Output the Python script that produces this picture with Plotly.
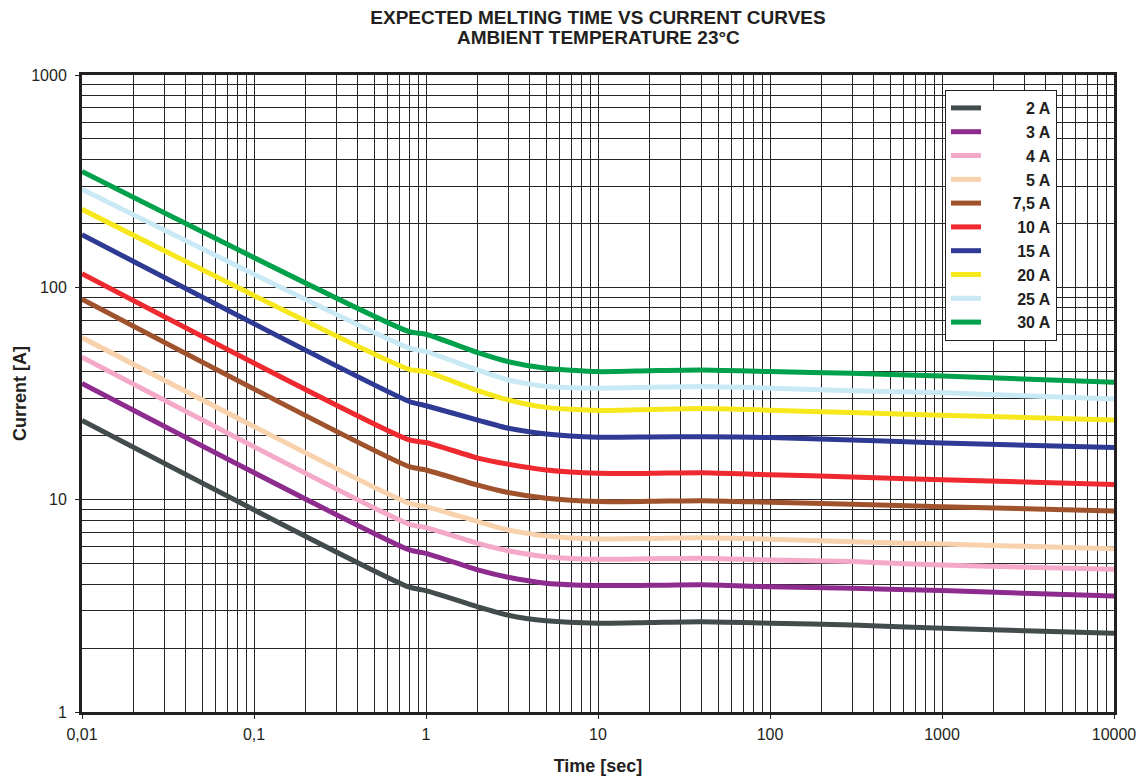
import plotly.graph_objects as go

# ---- data ----
times = [0.01, 0.8, 1, 2, 3, 5, 10, 20, 40, 100, 300, 1000, 10000]

series_names = ["2 A", "3 A", "4 A", "5 A", "7,5 A", "10 A", "15 A", "20 A", "25 A", "30 A"]
series_colors = ["#434c4c", "#8e2b8e", "#f3a9c7", "#f7d2ad", "#a0522d",
                 "#ee2a30", "#2e3a94", "#f7e81e", "#c9e9f5", "#00a14b"]

current_2a = [23.6, 3.87, 3.73, 3.13, 2.86, 2.69, 2.62, 2.64, 2.66, 2.62, 2.57, 2.48, 2.35]
current_3a = [35.3, 5.80, 5.59, 4.67, 4.31, 4.04, 3.94, 3.95, 3.97, 3.89, 3.83, 3.73, 3.52]
current_4a = [46.9, 7.66, 7.38, 6.23, 5.75, 5.39, 5.24, 5.27, 5.30, 5.20, 5.11, 4.92, 4.70]
current_5a = [58.0, 9.60, 9.27, 7.88, 7.20, 6.75, 6.53, 6.57, 6.62, 6.51, 6.34, 6.18, 5.87]
current_7_5a = [88.0, 14.3, 13.8, 11.7, 10.8, 10.15, 9.80, 9.82, 9.89, 9.72, 9.51, 9.27, 8.85]
current_10a = [116, 19.1, 18.6, 15.7, 14.7, 13.8, 13.3, 13.3, 13.4, 13.1, 12.8, 12.4, 11.8]
current_15a = [177, 29.0, 27.7, 23.7, 21.7, 20.4, 19.7, 19.75, 19.8, 19.6, 19.1, 18.5, 17.6]
current_20a = [233, 41.1, 40.1, 32.6, 29.5, 27.2, 26.3, 26.6, 26.9, 26.4, 25.7, 25.0, 23.7]
current_25a = [290, 51.7, 49.8, 40.8, 36.6, 34.1, 33.5, 33.8, 34.1, 33.5, 32.6, 31.9, 29.8]
current_30a = [351, 61.8, 60.1, 49.3, 44.7, 41.6, 40.1, 40.5, 40.8, 40.1, 39.4, 38.2, 35.7]

series_values = [current_2a, current_3a, current_4a, current_5a, current_7_5a,
                 current_10a, current_15a, current_20a, current_25a, current_30a]

x_tick_vals = [0.01, 0.1, 1, 10, 100, 1000, 10000]
x_tick_text = ["0,01", "0,1", "1", "10", "100", "1000", "10000"]
y_tick_vals = [1, 10, 100, 1000]
y_tick_text = ["1", "10", "100", "1000"]

title_line1 = "EXPECTED MELTING TIME VS CURRENT CURVES"
title_line2 = "AMBIENT TEMPERATURE 23°C"
x_title = "Time [sec]"
y_title = "Current [A]"

# ---- figure ----
FONT = "Liberation Sans, Arial, Helvetica, sans-serif"
GRID = "#262626"
W, H = 1145, 780
L, R, T, B = 82, 31, 75, 68


def padded(name):
    # right-align legend labels by left padding with figure / punctuation spaces
    digits = sum(c.isdigit() for c in name)
    commas = name.count(",")
    max_digits, max_commas = 2, 1
    return ("\u2007" * 3 + "\u2007" * max(0, max_digits - digits)
            + "\u2008" * max(0, max_commas - commas) + name)


fig = go.Figure()
for i, (name, color, vals) in enumerate(zip(series_names, series_colors, series_values)):
    fig.add_trace(go.Scatter(
        x=times, y=vals, mode="lines", name=padded(name),
        line=dict(color=color, width=5, shape="spline", smoothing=0.6),
        legendgroup=f"g{i}",
        hoverinfo="x+y+name",
    ))

axis_common = dict(
    type="log",
    showline=True, linewidth=3, linecolor="#231f20", mirror=True,
    ticks="outside", ticklen=4, tickwidth=1, tickcolor="#231f20",
    showgrid=True, gridcolor=GRID, gridwidth=1,
    minor=dict(dtick="D1", showgrid=True, gridcolor=GRID, gridwidth=1, ticks=""),
    tickfont=dict(family=FONT, size=16, color="#231f20"),
    zeroline=False,
)

fig.update_xaxes(
    **axis_common,
    range=[-2, 4],
    tickvals=x_tick_vals, ticktext=x_tick_text,
    ticklabelstandoff=2,
    title=dict(text=x_title, font=dict(family=FONT, size=18, color="#231f20", weight="bold"), standoff=18),
)
fig.update_yaxes(
    **axis_common,
    range=[0, 3],
    tickvals=y_tick_vals, ticktext=y_tick_text,
    ticklabelstandoff=5,
    title=dict(text=y_title, font=dict(family=FONT, size=18, color="#231f20", weight="bold"), standoff=0),
)

fig.update_layout(
    width=W, height=H,
    margin=dict(l=L, r=R, t=T, b=B, autoexpand=False),
    paper_bgcolor="white", plot_bgcolor="white",
    font=dict(family=FONT, color="#231f20"),
    title=dict(
        text=title_line1,
        font=dict(family=FONT, size=19, color="#231f20", weight="bold"),
        x=(L + (W - R)) / 2 / W, xanchor="center",
        y=1 - 17 / H, yanchor="middle",
    ),
    annotations=[dict(
        text=title_line2, xref="paper", yref="paper",
        x=0.5, y=1 + (T - 37) / (H - T - B), xanchor="center", yanchor="middle",
        showarrow=False,
        font=dict(family=FONT, size=19, color="#231f20", weight="bold"),
    )],
    legend=dict(
        x=(1057 - L) / (W - L - R), xanchor="right",
        y=1 - (90 - T) / (H - T - B), yanchor="top",
        bgcolor="white", bordercolor="#231f20", borderwidth=1,
        font=dict(family=FONT, size=16, color="#231f20", weight="bold"),
        tracegroupgap=7,
        traceorder="normal",
    ),
    showlegend=True,
)

fig.write_html("out.html", config={"displayModeBar": False},
               post_script="document.body.style.margin='0';")
